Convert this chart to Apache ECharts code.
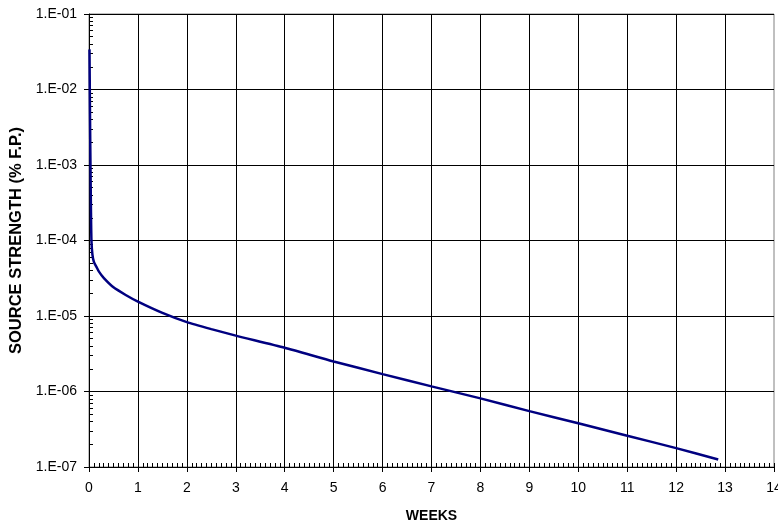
<!DOCTYPE html>
<html>
<head>
<meta charset="utf-8">
<title>Source strength</title>
<script src="https://cdn.jsdelivr.net/npm/echarts@6/dist/echarts.min.js"></script>
<style>
  html, body { margin: 0; padding: 0; background: #fff; }
  #chart { width: 778px; height: 523px; }
</style>
</head>
<body>
<div id="chart"></div>
<script>
// weeks after shutdown
const weeks = [0.01, 0.02, 0.03, 0.04, 0.05, 0.07, 0.1, 0.15, 0.2, 0.3, 0.5, 0.75,
  1, 1.5, 2, 2.5, 3, 4, 5, 6, 7, 8, 9, 10, 11, 12, 12.86]
// source strength, % F.P.
const strength = [3.4e-2, 5e-3, 1e-3, 2.5e-4, 1e-4, 6.5e-5, 5.2e-5, 4.5e-5, 3.9e-5, 3.2e-5, 2.4e-5, 1.9e-5,
  1.55e-5, 1.1e-5, 8.3e-6, 6.7e-6, 5.5e-6, 3.8e-6, 2.5e-6, 1.7e-6, 1.17e-6, 8.1e-7, 5.5e-7, 3.8e-7, 2.6e-7, 1.78e-7, 1.26e-7]
// y tick labels, 1E-07 .. 1E-01
const yLabels = ['1.E-07', '1.E-06', '1.E-05', '1.E-04', '1.E-03', '1.E-02', '1.E-01']

const font = 'Liberation Sans, Arial, sans-serif'
const chart = echarts.init(document.getElementById('chart'))

const yFormatter = (v) => {
    const e = Math.round(Math.log10(v))
    return yLabels[e + 7] || ''
}

const option = {
    animation: false,
    grid: {
        left: 89, top: 14, right: 4, bottom: 56,
        outerBoundsMode: 'none',
        show: true, borderColor: '#808080', borderWidth: 1
    },
    xAxis: [
        {
            type: 'value', min: 0, max: 14, interval: 1,
            name: 'WEEKS', nameLocation: 'middle', nameGap: 42,
            nameTextStyle: { fontFamily: font, fontSize: 14, fontWeight: 'bold', color: '#000' },
            axisLine: { lineStyle: { color: '#000', width: 1 } },
            axisTick: { show: true, length: 5, lineStyle: { color: '#000' } },
            minorTick: { show: false },
            axisLabel: { fontFamily: font, fontSize: 14, color: '#000', margin: 14 },
            splitLine: { show: true, showMaxLine: false, showMinLine: false, lineStyle: { color: '#000', width: 1 } }
        },
        {
            // inner minor ticks
            type: 'value', min: 0, max: 14, interval: 1, position: 'bottom',
            axisLine: { show: false },
            axisTick: { show: true, inside: true, length: 4, lineStyle: { color: '#000' } },
            minorTick: { show: true, splitNumber: 10, length: 4, lineStyle: { color: '#000' } },
            axisLabel: { show: false },
            splitLine: { show: false }
        }
    ],
    yAxis: [
        {
            type: 'log', logBase: 10, min: 1e-7, max: 1e-1,
            name: 'SOURCE STRENGTH (% F.P.)', nameLocation: 'middle', nameGap: 59,
            nameTextStyle: { fontFamily: font, fontSize: 16.5, fontWeight: 'bold', color: '#000' },
            axisLine: { show: true, lineStyle: { color: '#000', width: 1 } },
            axisTick: { show: true, length: 5, lineStyle: { color: '#000' } },
            minorTick: { show: false },
            axisLabel: { fontFamily: font, fontSize: 14, color: '#000', margin: 12, formatter: yFormatter },
            splitLine: { show: true, showMaxLine: false, showMinLine: false, lineStyle: { color: '#000', width: 1 } }
        },
        {
            // inner minor ticks
            type: 'log', logBase: 10, min: 1e-7, max: 1e-1, position: 'left',
            axisLine: { show: false },
            axisTick: { show: false, inside: true },
            minorTick: { show: true, splitNumber: 9, length: 4, lineStyle: { color: '#000' } },
            axisLabel: { show: false },
            splitLine: { show: false }
        }
    ],
    series: [
        {
            name: 'Source strength',
            type: 'line',
            showSymbol: false,
            smooth: 0.2,
            lineStyle: { color: '#000080', width: 2.5 },
            data: weeks.map((w, i) => [w, strength[i]])
        }
    ]
}
chart.setOption(option)
</script>
</body>
</html>
